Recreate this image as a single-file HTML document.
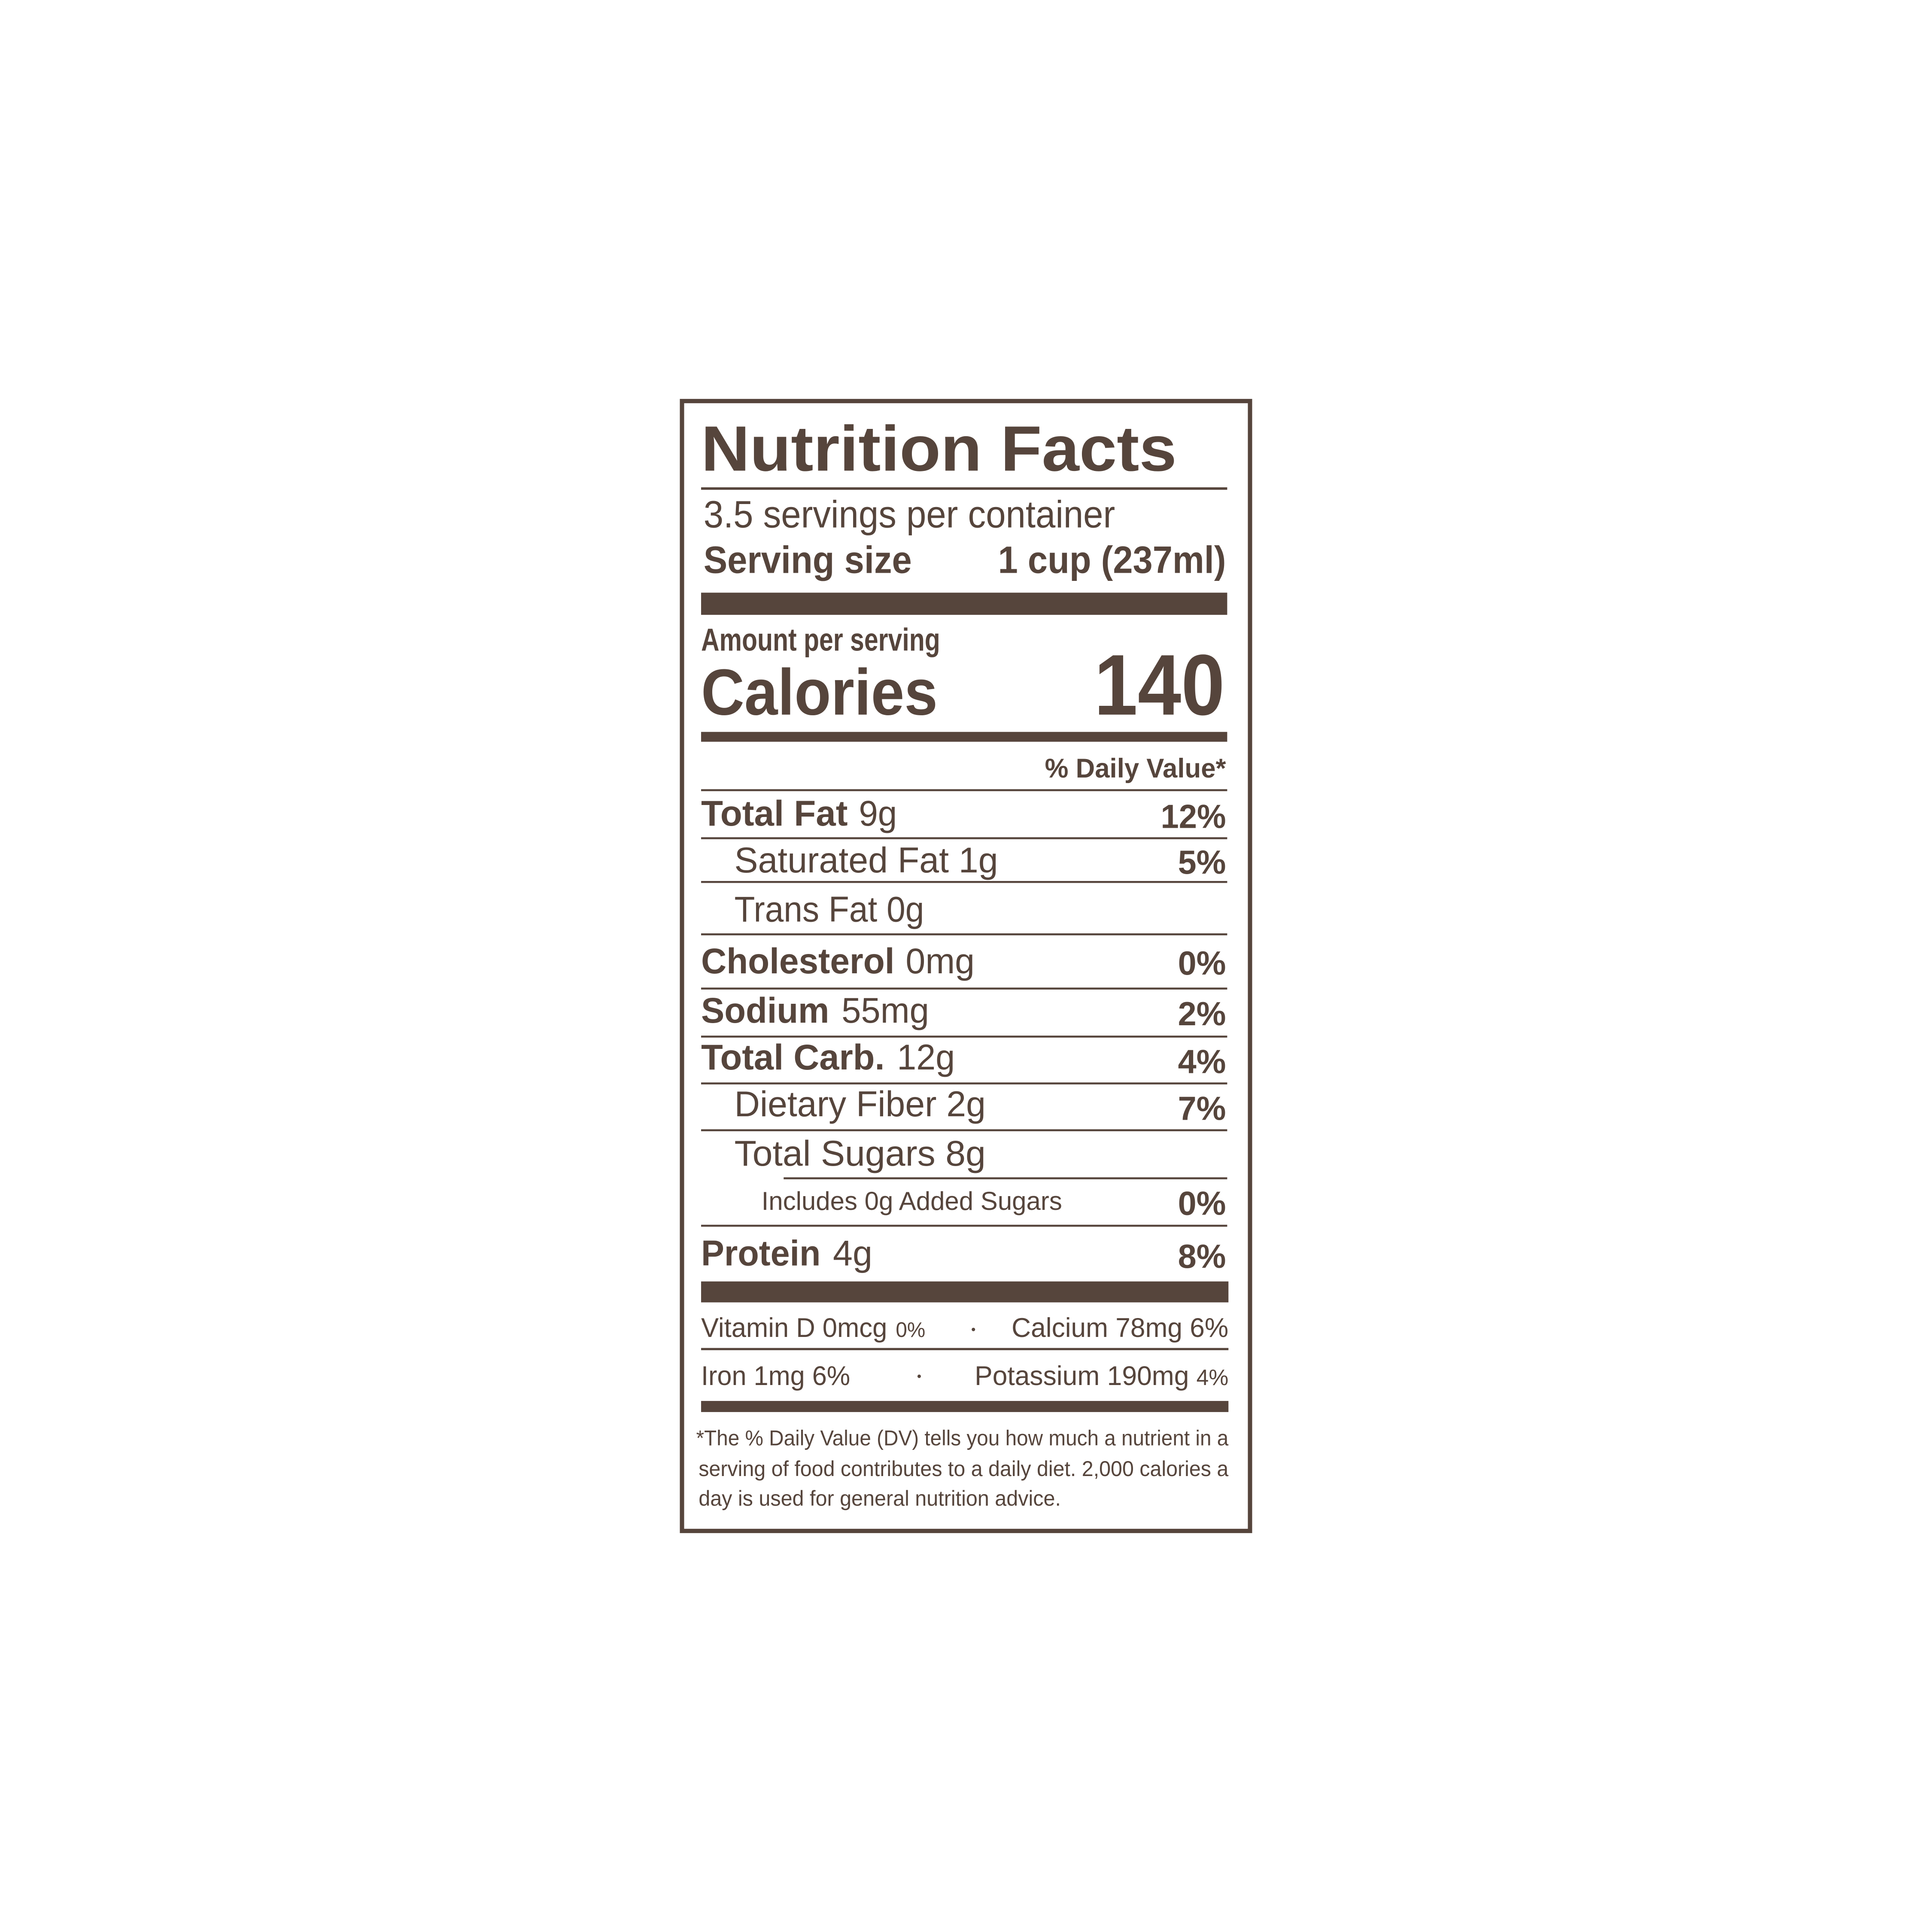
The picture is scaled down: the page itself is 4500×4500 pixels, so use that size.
<!DOCTYPE html>
<html><head><meta charset="utf-8"><style>
html,body{margin:0;padding:0;background:#fff;}
svg{display:block;}
text{font-family:"Liberation Sans",sans-serif;fill:#56453c;}
.b{font-weight:bold;}
</style></head><body>
<svg width="4500" height="4500" viewBox="0 0 1568 1568" xmlns="http://www.w3.org/2000/svg">
<rect x="0" y="0" width="1568" height="1568" fill="#fff"/>
<rect x="553.5" y="325.5" width="461" height="917" fill="none" stroke="#56453c" stroke-width="3.5"/>
<g fill="#56453c">
<rect x="569" y="395.5" width="427" height="2"/>
<rect x="569" y="481" width="427" height="18"/>
<rect x="569" y="594" width="427" height="8"/>
<rect x="569" y="640.5" width="427" height="1.6"/>
<rect x="569" y="679.5" width="427" height="1.6"/>
<rect x="569" y="715" width="427" height="1.6"/>
<rect x="569" y="757.5" width="427" height="1.6"/>
<rect x="569" y="801.5" width="427" height="1.6"/>
<rect x="569" y="840.5" width="427" height="1.6"/>
<rect x="569" y="878.5" width="427" height="1.6"/>
<rect x="569" y="916.5" width="427" height="1.6"/>
<rect x="636" y="955.5" width="360" height="1.6"/>
<rect x="569" y="994" width="427" height="1.6"/>
<rect x="569" y="1040" width="428" height="17"/>
<rect x="569" y="1094" width="428" height="1.8"/>
<rect x="569" y="1137" width="428" height="9"/>
</g>
<text class="b" x="569" y="382" font-size="52" textLength="386" lengthAdjust="spacingAndGlyphs">Nutrition Facts</text>
<text x="571" y="428" font-size="31" textLength="334" lengthAdjust="spacingAndGlyphs">3.5 servings per container</text>
<text class="b" x="571" y="465" font-size="31" textLength="169" lengthAdjust="spacingAndGlyphs">Serving size</text>
<text class="b" x="810" y="465" font-size="31" textLength="185" lengthAdjust="spacingAndGlyphs">1 cup (237ml)</text>
<text class="b" x="569" y="528" font-size="26" textLength="194" lengthAdjust="spacingAndGlyphs">Amount per serving</text>
<text class="b" x="569" y="580" font-size="53" textLength="192" lengthAdjust="spacingAndGlyphs">Calories</text>
<text class="b" x="888" y="580" font-size="70" textLength="106" lengthAdjust="spacingAndGlyphs">140</text>
<text class="b" x="848" y="631" font-size="22" textLength="147" lengthAdjust="spacingAndGlyphs">% Daily Value*</text>

<text class="b" x="569" y="670" font-size="29" textLength="119" lengthAdjust="spacingAndGlyphs">Total Fat</text>
<text x="697" y="670" font-size="29" textLength="31" lengthAdjust="spacingAndGlyphs">9g</text>
<text class="b" x="942" y="672" font-size="27" textLength="53" lengthAdjust="spacingAndGlyphs">12%</text>

<text x="596" y="708" font-size="29" textLength="214" lengthAdjust="spacingAndGlyphs">Saturated Fat 1g</text>
<text class="b" x="956" y="709" font-size="27" textLength="39" lengthAdjust="spacingAndGlyphs">5%</text>

<text x="596" y="748" font-size="29" textLength="154" lengthAdjust="spacingAndGlyphs">Trans Fat 0g</text>

<text class="b" x="569" y="790" font-size="29" textLength="157" lengthAdjust="spacingAndGlyphs">Cholesterol</text>
<text x="735" y="790" font-size="29" textLength="56" lengthAdjust="spacingAndGlyphs">0mg</text>
<text class="b" x="956" y="791" font-size="27" textLength="39" lengthAdjust="spacingAndGlyphs">0%</text>

<text class="b" x="569" y="830" font-size="29" textLength="104" lengthAdjust="spacingAndGlyphs">Sodium</text>
<text x="683" y="830" font-size="29" textLength="71" lengthAdjust="spacingAndGlyphs">55mg</text>
<text class="b" x="956" y="832" font-size="27" textLength="39" lengthAdjust="spacingAndGlyphs">2%</text>

<text class="b" x="569" y="868" font-size="29" textLength="149" lengthAdjust="spacingAndGlyphs">Total Carb.</text>
<text x="728" y="868" font-size="29" textLength="47" lengthAdjust="spacingAndGlyphs">12g</text>
<text class="b" x="956" y="871" font-size="27" textLength="39" lengthAdjust="spacingAndGlyphs">4%</text>

<text x="596" y="906" font-size="29" textLength="204" lengthAdjust="spacingAndGlyphs">Dietary Fiber 2g</text>
<text class="b" x="956" y="909" font-size="27" textLength="39" lengthAdjust="spacingAndGlyphs">7%</text>

<text x="596" y="946" font-size="29" textLength="204" lengthAdjust="spacingAndGlyphs">Total Sugars 8g</text>

<text x="618" y="982" font-size="21" textLength="244" lengthAdjust="spacingAndGlyphs">Includes 0g Added Sugars</text>
<text class="b" x="956" y="986" font-size="27" textLength="39" lengthAdjust="spacingAndGlyphs">0%</text>

<text class="b" x="569" y="1027" font-size="29" textLength="97" lengthAdjust="spacingAndGlyphs">Protein</text>
<text x="676" y="1027" font-size="29" textLength="32" lengthAdjust="spacingAndGlyphs">4g</text>
<text class="b" x="956" y="1029" font-size="27" textLength="39" lengthAdjust="spacingAndGlyphs">8%</text>

<text x="569" y="1085" font-size="22" textLength="151" lengthAdjust="spacingAndGlyphs">Vitamin D 0mcg</text>
<text x="727" y="1085" font-size="17" textLength="24" lengthAdjust="spacingAndGlyphs">0%</text>
<circle cx="790" cy="1079" r="1.4" fill="#56453c"/>
<text x="821" y="1085" font-size="22" textLength="176" lengthAdjust="spacingAndGlyphs">Calcium 78mg 6%</text>

<text x="569" y="1124" font-size="22" textLength="121" lengthAdjust="spacingAndGlyphs">Iron 1mg 6%</text>
<circle cx="746" cy="1117" r="1.4" fill="#56453c"/>
<text x="791" y="1124" font-size="22" textLength="174" lengthAdjust="spacingAndGlyphs">Potassium 190mg</text>
<text x="971" y="1124" font-size="18" textLength="26" lengthAdjust="spacingAndGlyphs">4%</text>

<text x="565" y="1173" font-size="17.5" textLength="432" lengthAdjust="spacingAndGlyphs">*The % Daily Value (DV) tells you how much a nutrient in a</text>
<text x="567" y="1198" font-size="17.5" textLength="430" lengthAdjust="spacingAndGlyphs">serving of food contributes to a daily diet. 2,000 calories a</text>
<text x="567" y="1222" font-size="17.5" textLength="294" lengthAdjust="spacingAndGlyphs">day is used for general nutrition advice.</text>
</svg>
</body></html>
